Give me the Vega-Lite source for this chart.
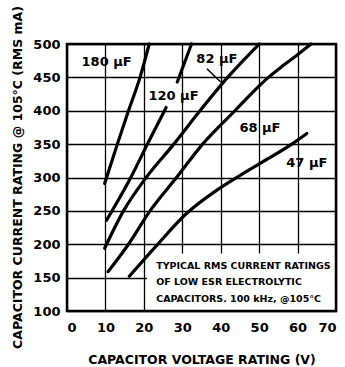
{
  "$schema": "https://vega.github.io/schema/vega-lite/v6.json",
  "width": 269,
  "height": 267,
  "autosize": {"type": "none"},
  "padding": {"left": 67, "top": 44, "right": 9, "bottom": 56},
  "background": "white",
  "config": {
    "view": {"stroke": null},
    "font": "DejaVu Sans",
    "axis": {
      "grid": true, "gridColor": "#000", "gridWidth": 1.3, "gridOpacity": 1,
      "domain": false, "ticks": false, "labelOverlap": false,
      "labelFont": "DejaVu Sans", "labelFontSize": 13, "labelFontWeight": "bold", "labelColor": "#000",
      "titleFont": "DejaVu Sans", "titleFontSize": 12.5, "titleFontWeight": "bold", "titleColor": "#000"
    }
  },
  "datasets": {
    "curves": [
      {"cap": "180", "seg": "a", "v": 9.8, "i": 291},
      {"cap": "180", "seg": "a", "v": 10.3, "i": 300},
      {"cap": "180", "seg": "a", "v": 13.1, "i": 350},
      {"cap": "180", "seg": "a", "v": 16, "i": 400},
      {"cap": "180", "seg": "a", "v": 19, "i": 450},
      {"cap": "180", "seg": "a", "v": 21.4, "i": 500},
      {"cap": "120", "seg": "a", "v": 10.3, "i": 236},
      {"cap": "120", "seg": "a", "v": 16.6, "i": 300},
      {"cap": "120", "seg": "a", "v": 21.1, "i": 352},
      {"cap": "120", "seg": "a", "v": 25.8, "i": 405},
      {"cap": "120", "seg": "b", "v": 28.7, "i": 443},
      {"cap": "120", "seg": "b", "v": 32.4, "i": 500},
      {"cap": "82", "seg": "a", "v": 9.8, "i": 194},
      {"cap": "82", "seg": "a", "v": 14.7, "i": 250},
      {"cap": "82", "seg": "a", "v": 20.6, "i": 300},
      {"cap": "82", "seg": "a", "v": 27.8, "i": 350},
      {"cap": "82", "seg": "a", "v": 34.6, "i": 400},
      {"cap": "82", "seg": "a", "v": 41.8, "i": 450},
      {"cap": "82", "seg": "a", "v": 50, "i": 500},
      {"cap": "68", "seg": "a", "v": 10.7, "i": 159},
      {"cap": "68", "seg": "a", "v": 16, "i": 200},
      {"cap": "68", "seg": "a", "v": 21.6, "i": 250},
      {"cap": "68", "seg": "a", "v": 28.5, "i": 300},
      {"cap": "68", "seg": "a", "v": 35.3, "i": 350},
      {"cap": "68", "seg": "a", "v": 43.7, "i": 400},
      {"cap": "68", "seg": "a", "v": 48.9, "i": 431},
      {"cap": "68", "seg": "a", "v": 52.4, "i": 450},
      {"cap": "68", "seg": "a", "v": 56.3, "i": 468},
      {"cap": "68", "seg": "a", "v": 60, "i": 484},
      {"cap": "68", "seg": "a", "v": 63.5, "i": 500},
      {"cap": "47", "seg": "a", "v": 16.2, "i": 152},
      {"cap": "47", "seg": "a", "v": 23.3, "i": 198},
      {"cap": "47", "seg": "a", "v": 31.1, "i": 246},
      {"cap": "47", "seg": "a", "v": 39, "i": 281},
      {"cap": "47", "seg": "a", "v": 45, "i": 303},
      {"cap": "47", "seg": "a", "v": 52, "i": 327},
      {"cap": "47", "seg": "a", "v": 58.5, "i": 350},
      {"cap": "47", "seg": "a", "v": 62.4, "i": 366}
    ],
    "labels": [
      {"text": "180 µF", "v": 10.3, "i": 473},
      {"text": "120 µF", "v": 27.7, "i": 422},
      {"text": "82 µF", "v": 39, "i": 477},
      {"text": "68 µF", "v": 50.2, "i": 374},
      {"text": "47 µF", "v": 62.4, "i": 322}
    ],
    "leader": [{"v": 36.4, "i": 463, "v2": 40, "i2": 443}],
    "box": [{"v": 20.8, "i": 100.4, "v2": 69.7, "i2": 186}],
    "frame": [{"v": 0, "i": 100, "v2": 70, "i2": 500}],
    "note": [
      {"text": "TYPICAL RMS CURRENT RATINGS", "v": 23.2, "i": 167},
      {"text": "OF LOW ESR ELECTROLYTIC", "v": 23.2, "i": 143.4},
      {"text": "CAPACITORS. 100 kHz, @105°C", "v": 23.2, "i": 118.6}
    ]
  },
  "encoding": {
    "x": {"field": "v", "type": "quantitative", "scale": {"domain": [0, 70], "nice": false},
      "axis": {"values": [0, 10, 20, 30, 40, 50, 60, 70], "labelPadding": 10, "title": "CAPACITOR VOLTAGE RATING (V)", "titleY": 48, "titleBaseline": "middle"}},
    "y": {"field": "i", "type": "quantitative", "scale": {"domain": [100, 500], "nice": false, "zero": false},
      "axis": {"values": [100, 150, 200, 250, 300, 350, 400, 450, 500], "labelPadding": 7, "title": "CAPACITOR CURRENT RATING @ 105°C (RMS mA)", "titleX": -50, "titleY": 133, "titleAngle": -90, "titleBaseline": "middle", "titleAlign": "center"}}
  },
  "layer": [
    {
      "data": {"name": "box"},
      "mark": {"type": "rect", "fill": "white", "stroke": null},
      "encoding": {"x2": {"field": "v2"}, "y2": {"field": "i2"}}
    },
    {
      "data": {"name": "frame"},
      "mark": {"type": "rect", "fill": null, "stroke": "#000", "strokeWidth": 2.5},
      "encoding": {"x2": {"field": "v2"}, "y2": {"field": "i2"}}
    },
    {
      "data": {"name": "curves"},
      "mark": {"type": "line", "color": "#000", "strokeWidth": 3.2, "interpolate": "monotone", "strokeCap": "round"},
      "encoding": {
        "detail": [{"field": "cap"}, {"field": "seg"}],
        "order": {"field": "i", "type": "quantitative"}
      }
    },
    {
      "data": {"name": "leader"},
      "mark": {"type": "rule", "color": "#000", "strokeWidth": 1.5},
      "encoding": {"x2": {"field": "v2"}, "y2": {"field": "i2"}}
    },
    {
      "data": {"name": "labels"},
      "mark": {"type": "text", "font": "DejaVu Sans", "fontSize": 13, "fontWeight": "bold", "color": "#000", "align": "center", "baseline": "middle"},
      "encoding": {"text": {"field": "text"}}
    },
    {
      "data": {"name": "note"},
      "mark": {"type": "text", "font": "DejaVu Sans", "fontSize": 9.5, "fontWeight": "bold", "color": "#000", "align": "left", "baseline": "middle"},
      "encoding": {"text": {"field": "text"}}
    }
  ]
}
